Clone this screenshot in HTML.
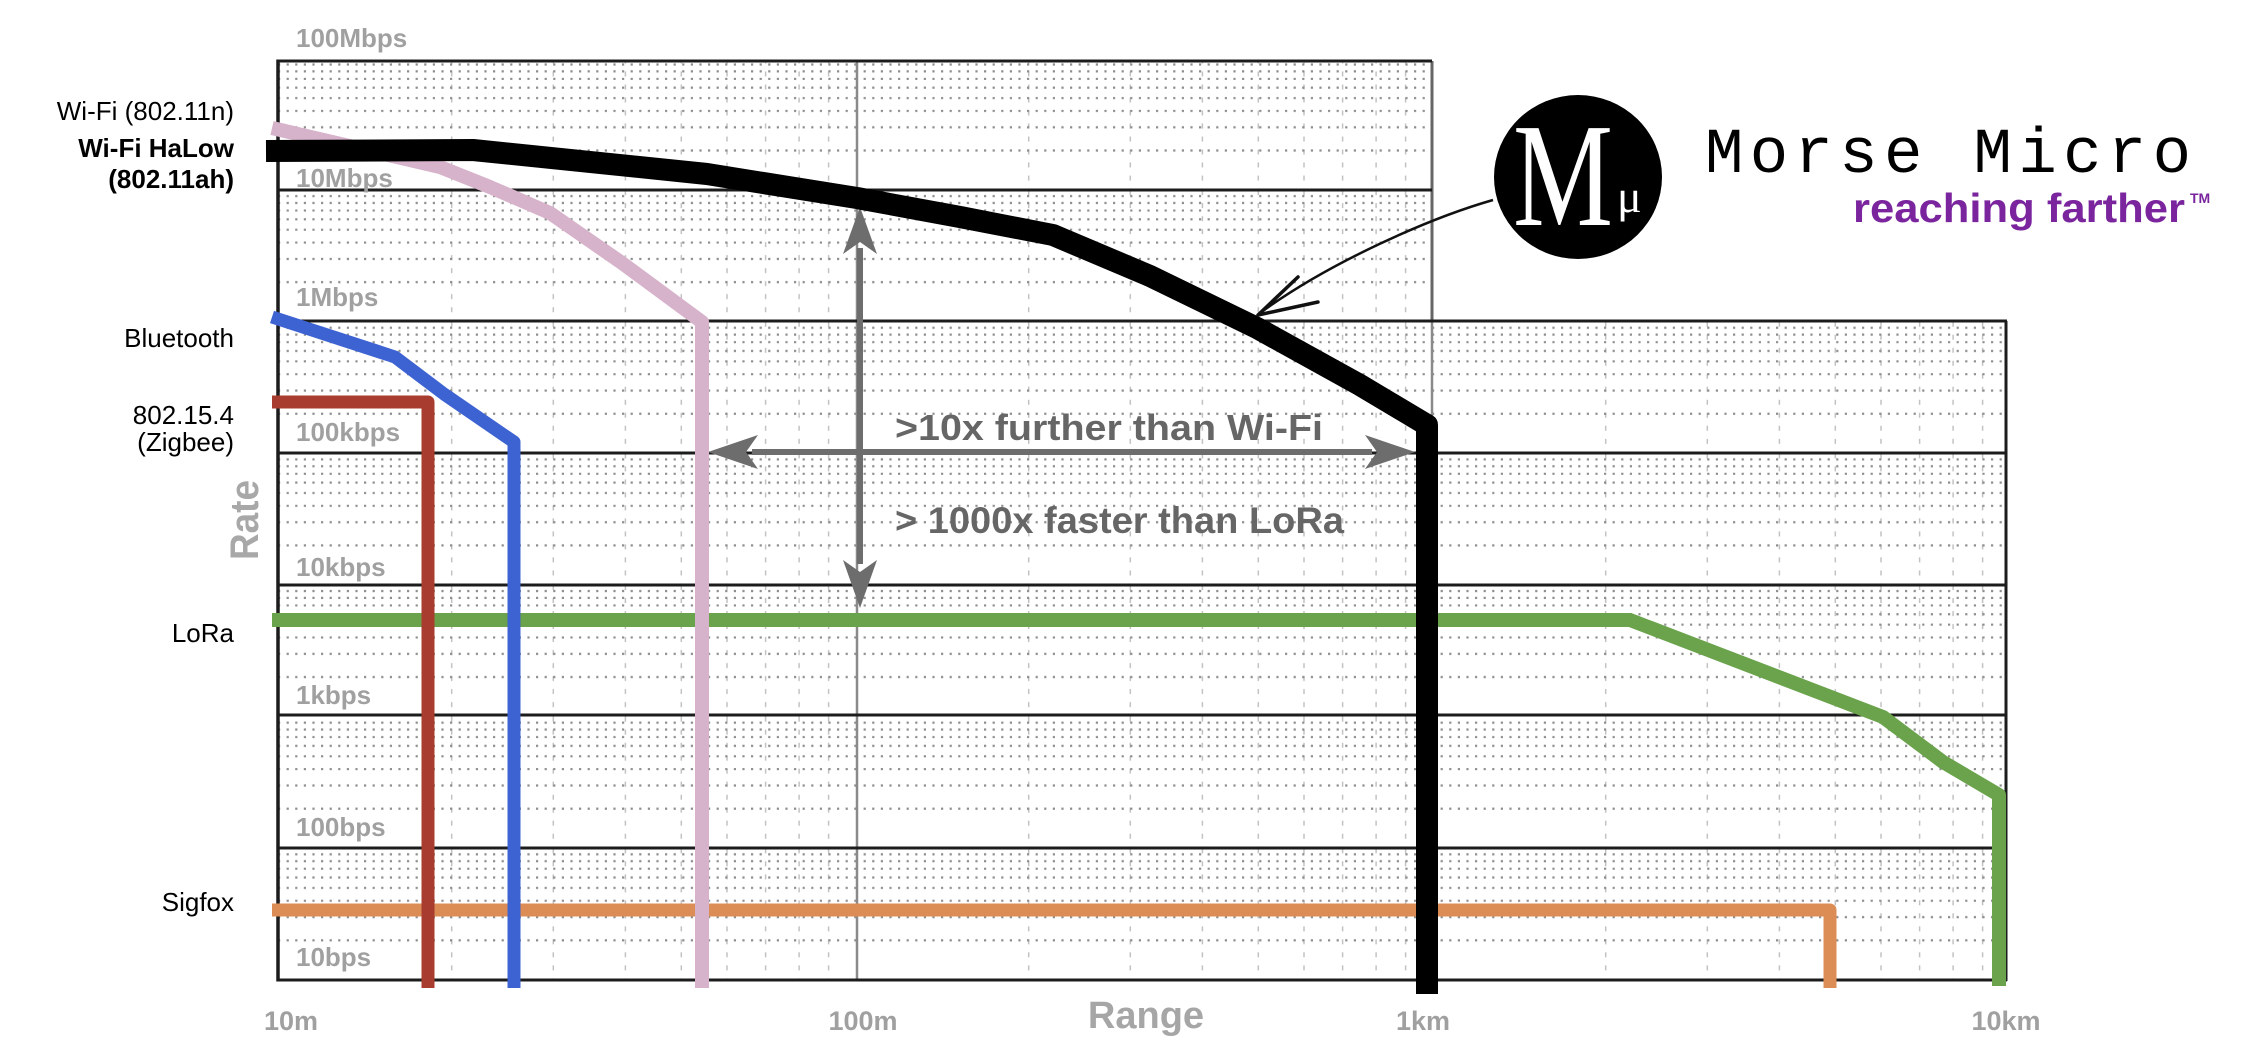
<!DOCTYPE html>
<html>
<head>
<meta charset="utf-8">
<style>
  html,body{margin:0;padding:0;background:#fff;}
  svg{display:block;font-family:"Liberation Sans", sans-serif;}
</style>
</head>
<body>
<svg width="2246" height="1044" viewBox="0 0 2246 1044" xmlns="http://www.w3.org/2000/svg">
  <defs>
    <pattern id="g" patternUnits="userSpaceOnUse" x="278" y="58.5" width="577" height="131.64">
      <g stroke="#c2c2c2" stroke-width="1.5" stroke-dasharray="5 8">
        <line x1="173.7" y1="0" x2="173.7" y2="131.64"/>
        <line x1="275.3" y1="0" x2="275.3" y2="131.64"/>
        <line x1="347.4" y1="0" x2="347.4" y2="131.64"/>
        <line x1="403.3" y1="0" x2="403.3" y2="131.64"/>
        <line x1="449.0" y1="0" x2="449.0" y2="131.64"/>
        <line x1="487.6" y1="0" x2="487.6" y2="131.64"/>
        <line x1="521.1" y1="0" x2="521.1" y2="131.64"/>
        <line x1="550.6" y1="0" x2="550.6" y2="131.64"/>
      </g>
      <g stroke="#8e8e8e" stroke-width="2.2" stroke-dasharray="2.2 6.4">
        <line x1="0" y1="6.0" x2="577" y2="6.0"/>
        <line x1="0" y1="12.8" x2="577" y2="12.8"/>
        <line x1="0" y1="20.4" x2="577" y2="20.4"/>
        <line x1="0" y1="29.2" x2="577" y2="29.2"/>
        <line x1="0" y1="39.6" x2="577" y2="39.6"/>
        <line x1="0" y1="52.4" x2="577" y2="52.4"/>
        <line x1="0" y1="68.8" x2="577" y2="68.8"/>
        <line x1="0" y1="92.0" x2="577" y2="92.0"/>
      </g>
    </pattern>
  </defs>

  <!-- grid areas -->
  <rect x="278" y="61" width="1154" height="260" fill="url(#g)"/>
  <rect x="278" y="321" width="1728" height="659" fill="url(#g)"/>

  <!-- major verticals -->
  <line x1="857" y1="61" x2="857" y2="980" stroke="#8a8a8a" stroke-width="2.5"/>
  <line x1="1432" y1="321" x2="1432" y2="980" stroke="#8a8a8a" stroke-width="2.5"/>
  <line x1="1432" y1="61" x2="1432" y2="321" stroke="#666" stroke-width="3"/>

  <!-- major horizontals -->
  <g stroke="#1c1c1c" stroke-width="3">
    <line x1="278" y1="61" x2="1432" y2="61"/>
    <line x1="278" y1="190" x2="1432" y2="190"/>
    <line x1="278" y1="321" x2="2007" y2="321"/>
    <line x1="278" y1="453" x2="2007" y2="453"/>
    <line x1="278" y1="585" x2="2007" y2="585"/>
    <line x1="278" y1="715" x2="2007" y2="715"/>
    <line x1="278" y1="848" x2="2007" y2="848"/>
    <line x1="278" y1="980" x2="2007" y2="980"/>
    <line x1="2006" y1="321" x2="2006" y2="981"/>
  </g>
  <line x1="278" y1="59.5" x2="278" y2="981.5" stroke="#1c1c1c" stroke-width="3.5"/>

  <!-- tick labels -->
  <g font-weight="bold" font-size="26" fill="#a0a0a0">
    <text x="296" y="47">100Mbps</text>
    <text x="296" y="187">10Mbps</text>
    <text x="296" y="306">1Mbps</text>
    <text x="296" y="441">100kbps</text>
    <text x="296" y="576">10kbps</text>
    <text x="296" y="704">1kbps</text>
    <text x="296" y="836">100bps</text>
    <text x="296" y="966">10bps</text>
  </g>
  <g font-weight="bold" font-size="27" fill="#a0a0a0" text-anchor="middle">
    <text x="291" y="1030">10m</text>
    <text x="863" y="1030">100m</text>
    <text x="1423" y="1030">1km</text>
    <text x="2006" y="1030">10km</text>
  </g>
  <text x="1146" y="1028" font-weight="bold" font-size="38" fill="#a6a6a6" text-anchor="middle">Range</text>
  <text transform="translate(258,520) rotate(-90)" font-weight="bold" font-size="40" fill="#a8a8a8" text-anchor="middle" textLength="80" lengthAdjust="spacingAndGlyphs">Rate</text>

  <!-- left series labels -->
  <g font-size="26" fill="#000" text-anchor="end">
    <text x="234" y="120">Wi-Fi (802.11n)</text>
    <text x="234" y="157" font-weight="bold">Wi-Fi HaLow</text>
    <text x="234" y="188" font-weight="bold">(802.11ah)</text>
    <text x="234" y="347">Bluetooth</text>
    <text x="234" y="424">802.15.4</text>
    <text x="234" y="451">(Zigbee)</text>
    <text x="234" y="642">LoRa</text>
    <text x="234" y="911">Sigfox</text>
  </g>

  <!-- annotation arrows -->
  <g fill="#6d6d6d">
    <rect x="752" y="449" width="620" height="6"/>
    <polygon points="708,452 758,435 746,452 758,469"/>
    <polygon points="1415,452 1365,435 1377,452 1365,469"/>
    <rect x="857" y="248" width="6" height="316"/>
    <polygon points="860,207 843,254 860,242 877,254"/>
    <polygon points="860,608 843,560 860,572 877,560"/>
  </g>
  <text x="895" y="440" font-weight="bold" font-size="36" fill="#666" textLength="428" lengthAdjust="spacingAndGlyphs">&gt;10x further than Wi-Fi</text>
  <text x="895" y="533" font-weight="bold" font-size="37" fill="#666" textLength="449" lengthAdjust="spacingAndGlyphs">&gt; 1000x faster than LoRa</text>

  <!-- series -->
  <g fill="none" stroke-linejoin="round" stroke-linecap="butt">
    <polyline points="272,910 1830,910 1830,988" stroke="#dc8d55" stroke-width="13"/>
    <polyline points="272,620 1630,620 1883,717 1943,762 1999,795 1999,986" stroke="#6aa34b" stroke-width="14"/>
    <polyline points="272,402 428,402 428,988" stroke="#a83c2f" stroke-width="13"/>
    <polyline points="272,317 395,357 444,394 514,442 514,988" stroke="#3d63d2" stroke-width="13"/>
    <polyline points="272,128 440,167 490,187 550,213 622,263 702,322 702,988" stroke="#d7b3cb" stroke-width="14"/>
    <polyline points="266,151 473,150 707,174 857,198 960,217 1053,235 1150,276 1257,328 1360,385 1427,425 1427,994" stroke="#000" stroke-width="22"/>
  </g>

  <!-- logo pointer arrow -->
  <path d="M1493,200 C1430,218 1330,262 1260,313" fill="none" stroke="#111" stroke-width="2.5"/>
  <path d="M1298,277 L1258,315 L1318,302" fill="none" stroke="#111" stroke-width="3.5" stroke-linecap="round" stroke-linejoin="round"/>

  <!-- logo -->
  <ellipse cx="1578" cy="177" rx="84" ry="82" fill="#000"/>
  <text x="1513" y="225" font-family="'Liberation Serif', serif" font-size="148" fill="#fff" textLength="100" lengthAdjust="spacingAndGlyphs">M</text>
  <text x="1617" y="212" font-family="'Liberation Serif', serif" font-size="46" fill="#fff">μ</text>

  <text x="1705" y="172" font-family="'Liberation Mono', monospace" font-size="64" fill="#000" textLength="486" lengthAdjust="spacing">Morse Micro</text>
  <text x="1853" y="222" font-weight="bold" font-size="41" fill="#7a259e" textLength="332" lengthAdjust="spacingAndGlyphs">reaching farther</text>
  <text x="2190" y="203" font-weight="bold" font-size="14" fill="#7a259e">TM</text>
</svg>
</body>
</html>
